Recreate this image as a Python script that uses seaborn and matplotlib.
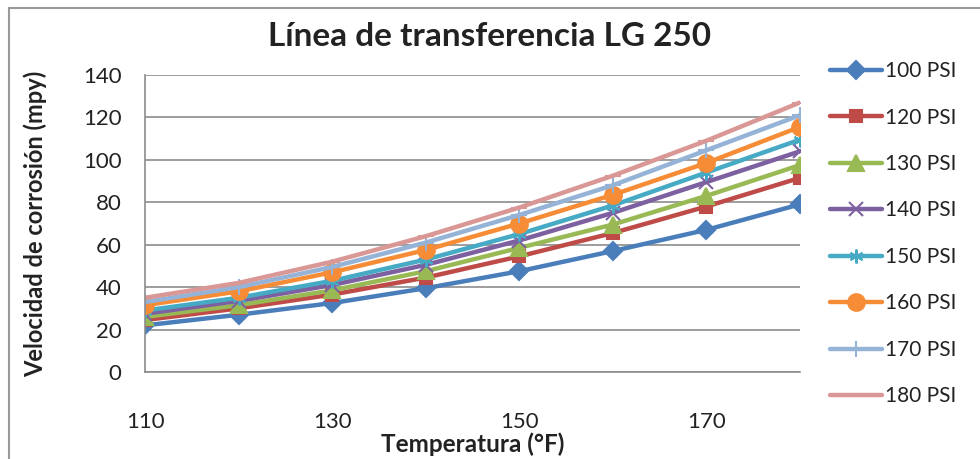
import matplotlib
matplotlib.use("Agg")
import matplotlib.pyplot as plt
import seaborn as sns
import pandas as pd

# Temperatures (°F) and corrosion rates (mpy) for each line pressure
temperatura = [110, 120, 130, 140, 150, 160, 170, 180]
psi_100 = [22, 27, 32.5, 39.5, 47.5, 57, 67, 79]
psi_120 = [24.5, 30, 36.5, 44.5, 54.5, 65.5, 78, 91.5]
psi_130 = [26, 31.5, 38.5, 47.5, 58.5, 69.5, 83, 97.5]
psi_140 = [27.5, 33.5, 41, 50.5, 62, 75, 89.5, 104]
psi_150 = [29, 35, 43, 53, 65, 78.5, 94, 109.5]
psi_160 = [31.5, 38, 47, 57.5, 70, 83.5, 98.5, 115.5]
psi_170 = [33, 40, 49.5, 61, 74, 88, 104.5, 121]
psi_180 = [35, 42, 52, 64, 77.5, 92.5, 109, 127]

series_labels = ["100 PSI", "120 PSI", "130 PSI", "140 PSI",
                 "150 PSI", "160 PSI", "170 PSI", "180 PSI"]
series_values = [psi_100, psi_120, psi_130, psi_140,
                 psi_150, psi_160, psi_170, psi_180]
x_ticks = [110, 130, 150, 170]
y_ticks = [0, 20, 40, 60, 80, 100, 120, 140]

# Office-style series styling
colors = ["#4A7EBB", "#BE4B48", "#98B954", "#7D60A0",
          "#46AAC5", "#F68C36", "#95B3D7", "#D99795"]
markers = ["D", "s", "^", "x", (6, 2, 0), "o", "+", "_"]
msizes = [9, 9, 11, 10, 10, 12, 12, 12]

sns.set_style("white")
plt.rcParams["font.family"] = ["Lato", "DejaVu Sans"]

rows = []
for lab, vals in zip(series_labels, series_values):
    for t, v in zip(temperatura, vals):
        rows.append({"Temperatura": t, "Velocidad": v, "Serie": lab})
df = pd.DataFrame(rows)

fig = plt.figure(figsize=(9.8, 4.59), dpi=100)
ax = fig.add_axes([0.148, 0.1895, 0.668, 0.647])

for lab, col, mk, ms in zip(series_labels, colors, markers, msizes):
    sub = df[df["Serie"] == lab]
    sns.lineplot(data=sub, x="Temperatura", y="Velocidad", ax=ax,
                 color=col, marker=mk, markersize=ms, linewidth=3.2,
                 markeredgecolor=col, markeredgewidth=1.5, label=lab,
                 legend=False)

ax.set_xlim(110, 180)
ax.set_ylim(0, 140)
ax.set_xticks(x_ticks)
ax.set_yticks(y_ticks)
ax.grid(axis="y", color="#8C8C8C", linewidth=1.2)
ax.grid(axis="x", visible=False)
ax.set_axisbelow(True)
for side in ["top", "right"]:
    ax.spines[side].set_visible(False)
for side in ["left", "bottom"]:
    ax.spines[side].set_color("#8C8C8C")
    ax.spines[side].set_linewidth(1.2)
ax.tick_params(axis="both", direction="out", length=5, width=1.2,
               color="#8C8C8C", labelsize=16, labelcolor="#222222")
ax.tick_params(axis="x", pad=24)
ax.tick_params(axis="y", pad=12)

ax.set_xlabel("Temperatura (°F)", fontsize=17.5, fontweight="bold",
              labelpad=0, color="#222222")
ax.set_ylabel("Velocidad de corrosión (mpy)", fontsize=17,
              fontweight="bold", labelpad=26, color="#222222")
fig.text(0.5, 1 - 37 / 459, "Línea de transferencia LG 250",
         ha="center", va="center", fontsize=24, fontweight="bold",
         color="#222222")

handles, labels = ax.get_legend_handles_labels()
leg = fig.legend(handles, labels, loc="upper left",
                 bbox_to_anchor=(0.838, 0.885), frameon=False,
                 fontsize=15, handlelength=2.5, handletextpad=0.15,
                 labelspacing=1.27, borderaxespad=0)
for t in leg.get_texts():
    t.set_color("#222222")

# Outer chart frame
fig.patches.append(plt.Rectangle((0.009, -0.05), 1.2, 1.033,
                                 transform=fig.transFigure, fill=False,
                                 edgecolor="#9A9A9A", linewidth=1.5))

fig.savefig("out.png", dpi=100)
